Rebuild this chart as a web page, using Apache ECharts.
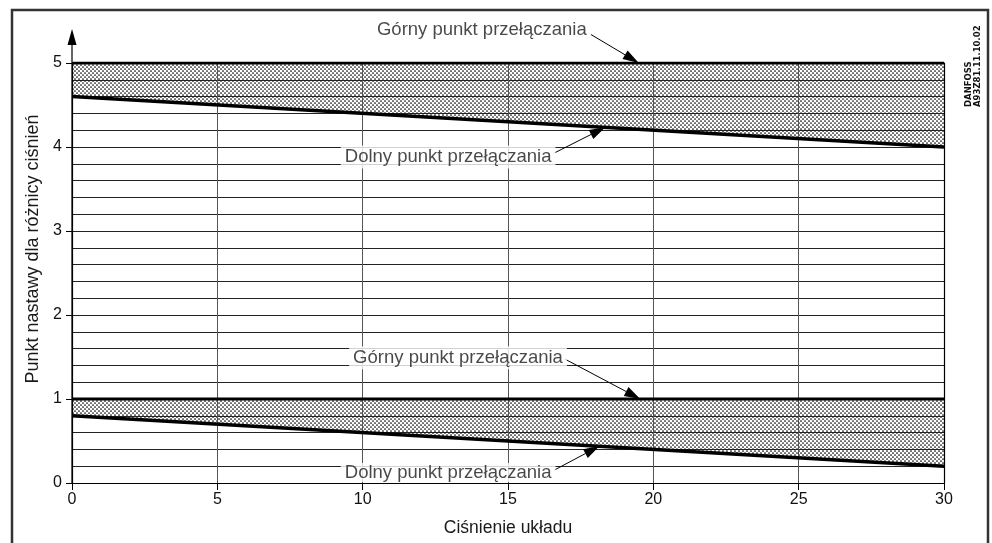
<!DOCTYPE html>
<html>
<head>
<meta charset="utf-8">
<script src="https://cdn.jsdelivr.net/npm/echarts@6/dist/echarts.min.js"></script>
<style>
html,body{margin:0;padding:0;background:#fff}
#main{width:992px;height:543px}
</style>
</head>
<body>
<div id="main"></div>
<script>
// oś X - ciśnienie układu
var xEnds = [0, 30];
// górny zakres nastawy
var upperHigh = [5, 5];
var upperLow = [4.6, 4.0];
// dolny zakres nastawy
var lowerHigh = [1, 1];
var lowerLow = [0.8, 0.2];

// opisy [x, y, tekst]
var notes = [
  [14.1, 5.39, 'Górny punkt przełączania'],
  [12.94, 3.88, 'Dolny punkt przełączania'],
  [13.28, 1.49, 'Górny punkt przełączania'],
  [12.94, 0.125, 'Dolny punkt przełączania']
];
// strzałki [x od, y od, x do, y do]
var arrows = [
  [17.85, 5.34, 19.5, 5.0],
  [16.6, 3.93, 18.35, 4.235],
  [16.96, 1.475, 19.55, 1.0],
  [16.6, 0.155, 18.15, 0.44]
];
var yArrowTop = 5.31;

function pts(ys) {
  return xEnds.map(function (x, i) { return [x, ys[i]]; });
}

// kropkowane wypełnienie
var pat = document.createElement('canvas');
pat.width = 4; pat.height = 4;
var ctx = pat.getContext('2d');
ctx.fillStyle = '#fff';
ctx.fillRect(0, 0, 4, 4);
ctx.fillStyle = '#000';
ctx.beginPath(); ctx.arc(1, 1, 0.85, 0, Math.PI * 2); ctx.fill();
ctx.beginPath(); ctx.arc(3, 3, 0.85, 0, Math.PI * 2); ctx.fill();
var dots = { image: pat, repeat: 'repeat' };

var font = 'Liberation Sans';

function area(ys, color, z) {
  return {
    type: 'line', data: pts(ys), symbol: 'none', z: z, silent: true,
    lineStyle: { width: 0 },
    areaStyle: { color: color, opacity: 1, origin: 'start' }
  };
}
function thick(ys, w) {
  return {
    type: 'line', data: pts(ys), symbol: 'none', z: 6, silent: true,
    lineStyle: { width: w, color: '#000' }
  };
}

function renderArrow(params, api) {
  var p0 = api.coord([api.value(0), api.value(1)]);
  var p1 = api.coord([api.value(2), api.value(3)]);
  var dx = p1[0] - p0[0], dy = p1[1] - p0[1];
  var len = Math.sqrt(dx * dx + dy * dy);
  var ux = dx / len, uy = dy / len;
  var hl = 16, hw = 5;
  var bx = p1[0] - ux * hl, by = p1[1] - uy * hl;
  return {
    type: 'group',
    children: [{
      type: 'line',
      shape: { x1: p0[0], y1: p0[1], x2: bx, y2: by },
      style: { stroke: '#000', lineWidth: 1 }
    }, {
      type: 'polygon',
      shape: { points: [p1, [bx - uy * hw, by + ux * hw], [bx + uy * hw, by - ux * hw]] },
      style: { fill: '#000' }
    }]
  };
}

var chart = echarts.init(document.getElementById('main'));
var option = {
  animation: false,
  grid: { left: 72, right: 48, top: 63, bottom: 60 },
  xAxis: {
    type: 'value', min: 0, max: 30, interval: 5, z: 5,
    name: 'Ciśnienie układu', nameLocation: 'middle', nameGap: 36,
    nameTextStyle: { fontFamily: font, fontSize: 17.5, color: '#1a1a1a' },
    axisLine: { show: true, lineStyle: { color: '#000', width: 1.2 } },
    axisTick: { show: true, length: 7, lineStyle: { color: '#000' } },
    axisLabel: { fontFamily: font, fontSize: 16, color: '#111', margin: 9 },
    splitLine: { show: true, lineStyle: { color: '#555', width: 1 } }
  },
  yAxis: [{
    type: 'value', min: 0, max: 5, interval: 1, z: 5,
    name: 'Punkt nastawy dla różnicy ciśnień', nameLocation: 'middle', nameGap: 30,
    nameTextStyle: { fontFamily: font, fontSize: 18, color: '#1a1a1a', padding: [0, 0, 0, 48] },
    axisLine: { show: true, lineStyle: { color: '#000', width: 1.2 } },
    axisTick: { show: true, length: 6, lineStyle: { color: '#000' } },
    axisLabel: { fontFamily: font, fontSize: 16, color: '#111', margin: 10 },
    splitLine: { show: true, lineStyle: { color: '#222', width: 1 } },
    minorTick: { show: false, splitNumber: 5 },
    minorSplitLine: { show: true, lineStyle: { color: '#222', width: 1 } }
  }, {
    type: 'value', min: 0, max: 5, position: 'right', z: 5,
    axisLine: { show: true, onZero: false, lineStyle: { color: '#000', width: 1.2 } },
    axisTick: { show: false }, axisLabel: { show: false }, splitLine: { show: false }
  }],
  graphic: [{
    type: 'rect', silent: true, z: 0,
    shape: { x: 12, y: 10, width: 976, height: 560 },
    style: { fill: 'none', stroke: '#333', lineWidth: 2.5 }
  }, {
    type: 'text', silent: true, x: 973, y: 107, rotation: Math.PI / 2,
    style: {
      text: 'DANFOSS\nA93Z81.11.10.02', fill: '#111',
      font: 'bold 8.5px "DejaVu Sans"', lineHeight: 9,
      align: 'left', verticalAlign: 'middle'
    }
  }],
  series: [
    area(upperHigh, dots, 1),
    area(upperLow, '#fff', 2),
    area(lowerHigh, dots, 3),
    area(lowerLow, '#fff', 4),
    thick(upperHigh, 3),
    thick(upperLow, 3.5),
    thick(lowerHigh, 3),
    thick(lowerLow, 3.5),
    {
      type: 'line', z: 6, clip: false, silent: true,
      lineStyle: { width: 1.2, color: '#000' },
      itemStyle: { color: '#000' },
      showAllSymbol: true,
      data: [
        { value: [0, 0], symbol: 'none' },
        { value: [0, yArrowTop], symbol: 'triangle', symbolSize: [9, 16] }
      ]
    },
    {
      type: 'custom', z: 7, clip: false, silent: true,
      renderItem: renderArrow,
      encode: { x: [0, 2], y: [1, 3] },
      data: arrows
    },
    {
      type: 'scatter', z: 8, clip: false, silent: true, symbolSize: 1,
      itemStyle: { color: 'rgba(0,0,0,0)' },
      label: {
        show: true, position: 'inside', formatter: '{b}',
        fontFamily: font, fontSize: 18.5, color: '#1a1a1a',
        backgroundColor: '#fff', padding: [2, 4]
      },
      data: notes.map(function (n, i) {
        var d = { value: [n[0], n[1]], name: n[2] };
        if (i === 3) d.label = { padding: [0, 4] };
        return d;
      })
    }
  ]
};
chart.setOption(option);
</script>
</body>
</html>
